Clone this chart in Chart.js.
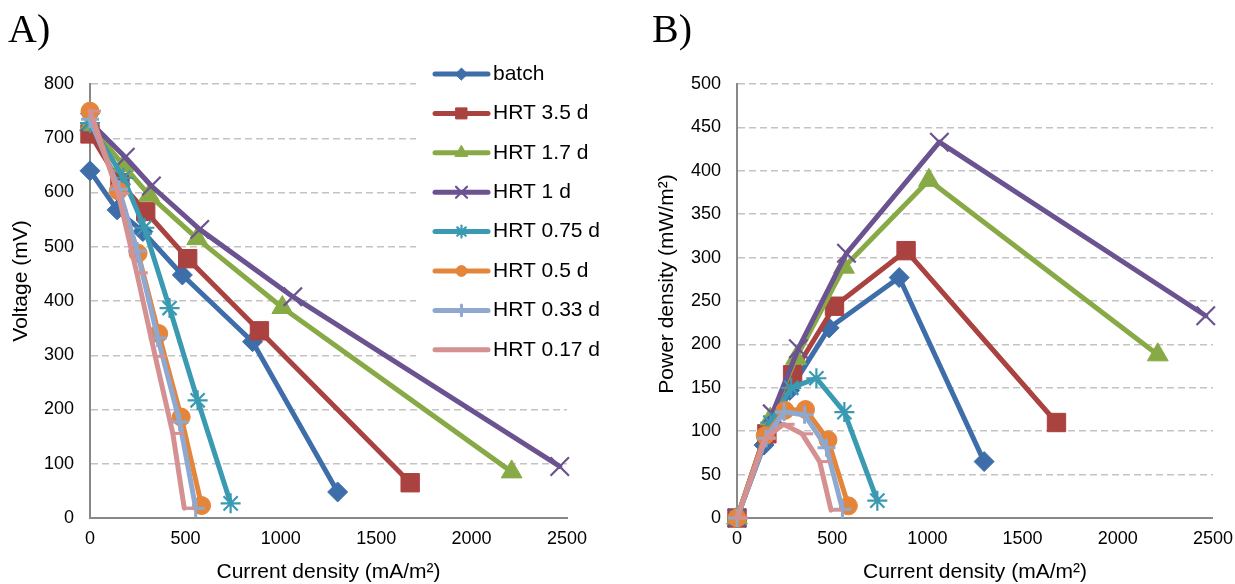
<!DOCTYPE html>
<html><head><meta charset="utf-8">
<script src="https://cdn.jsdelivr.net/npm/chart.js@4.4.0/dist/chart.umd.min.js"></script>
<style>
html,body{margin:0;padding:0;background:#fff;width:1235px;height:584px;overflow:hidden;position:relative;}
#a{position:absolute;left:0;top:0;}
#b{position:absolute;left:640px;top:0;}
.lab{position:absolute;font-family:"Liberation Serif","Times New Roman",serif;font-size:40px;line-height:40px;color:#000;}
</style></head><body>
<canvas id="a" width="620" height="584"></canvas>
<canvas id="b" width="603" height="584"></canvas>
<div class="lab" style="left:8px;top:9px">A)</div>
<div class="lab" style="left:652px;top:9px">B)</div>
<script>
// ---- data ----
const seriesNames = ['batch','HRT 3.5 d','HRT 1.7 d','HRT 1 d','HRT 0.75 d','HRT 0.5 d','HRT 0.33 d','HRT 0.17 d'];

const current_batch = [0,142,277,484,852,1298];
const current_hrt35 = [0,157,292,512,888,1678];
const current_hrt17 = [0,175,310,562,1008,2210];
const current_hrt1  = [0,185,322,575,1063,2462];
const current_hrt075= [0,175,285,417,564,737];
const current_hrt05 = [0,148,252,360,478,585];
const current_hrt033= [0,152,247,355,470,554];
const current_hrt017= [0,148,245,342,434,494];

const voltage_batch = [640,568,528,448,325,48];
const voltage_hrt35 = [708,618,565,478,345,65];
const voltage_hrt17 = [725,650,595,515,388,85];
const voltage_hrt1  = [730,665,612,532,408,95];
const voltage_hrt075= [728,627,535,387,217,27];
const voltage_hrt05 = [750,603,488,340,186,23];
const voltage_hrt033= [735,606,492,332,177,18];
const voltage_hrt017= [750,598,452,298,156,18];

const power_batch = [0,84,147,219,277,65];
const power_hrt35 = [0,97,165,244,308,110];
const power_hrt17 = [0,114,184,289,389,188];
const power_hrt1  = [0,120,195,305,433,233];
const power_hrt075= [0,110,150,161,122,20];
const power_hrt05 = [0,95,124,125,90,14];
const power_hrt033= [0,92,122,119,81,10];
const power_hrt017= [0,92,108,97,65,9];

const xTickValues = [0,500,1000,1500,2000,2500];
const yTickValuesA = [0,100,200,300,400,500,600,700,800];
const yTickValuesB = [0,50,100,150,200,250,300,350,400,450,500];

const currents = [current_batch,current_hrt35,current_hrt17,current_hrt1,current_hrt075,current_hrt05,current_hrt033,current_hrt017];
const voltages = [voltage_batch,voltage_hrt35,voltage_hrt17,voltage_hrt1,voltage_hrt075,voltage_hrt05,voltage_hrt033,voltage_hrt017];
const powers = [power_batch,power_hrt35,power_hrt17,power_hrt1,power_hrt075,power_hrt05,power_hrt033,power_hrt017];

// ---- styles ----
const colors = ['#3E6EA9','#AA4240','#88AA46','#6B5291','#3A9AB2','#E4853A','#8FA8D0','#D59091'];
const pStyles = ['rectRot','rect','triangle','crossRot','star','circle','cross','dash'];
const pRadius = [10,13,12,13,10,9,9,11];
const pBorder = [1,1,1,2.2,2.2,1,3,3];

const FONT = '"Liberation Sans", Arial, sans-serif';
Chart.defaults.font.family = FONT;

function makeDatasets(ys){
  return seriesNames.map((name,i)=>({
    label:name,
    data: currents[i].map((x,k)=>({x:x,y:ys[i][k]})),
    borderColor:colors[i], backgroundColor:colors[i],
    borderWidth:5, showLine:true, tension:0,
    borderJoinStyle:'round', borderCapStyle:'round',
    pointStyle:pStyles[i], pointRadius:pRadius[i], pointHoverRadius:pRadius[i],
    pointBackgroundColor:colors[i], pointBorderColor:colors[i], pointBorderWidth:pBorder[i],
    clip:false, order:7-i
  }));
}

function yTitle(text,x,y){
  return {id:'ytitle',afterDraw(chart){
    const ctx=chart.ctx; ctx.save(); ctx.translate(x,y); ctx.rotate(-Math.PI/2);
    ctx.font='21px '+FONT; ctx.fillStyle='#000'; ctx.textAlign='center'; ctx.textBaseline='middle';
    ctx.fillText(text,0,0); ctx.restore();
  }};
}

const legendPlugin = {
  id:'customLegend',
  beforeDatasetsDraw(chart){
    const ctx=chart.ctx; ctx.save(); ctx.fillStyle='#fff'; ctx.fillRect(416,56,204,315); ctx.restore();
  },
  afterDatasetsDraw(chart){
    const ctx=chart.ctx;
    chart.data.datasets.forEach((ds,i)=>{
      const y = 74 + i*39.4;
      ctx.save();
      ctx.strokeStyle=ds.borderColor; ctx.lineWidth=5; ctx.lineCap='round';
      ctx.beginPath(); ctx.moveTo(435,y); ctx.lineTo(488,y); ctx.stroke();
      ctx.fillStyle=ds.pointBackgroundColor; ctx.strokeStyle=ds.pointBorderColor; ctx.lineWidth=ds.pointBorderWidth;
      Chart.helpers.drawPoint(ctx,{pointStyle:ds.pointStyle,radius:ds.pointRadius*0.6,rotation:0,borderWidth:ds.pointBorderWidth},461.5,y);
      ctx.restore();
      ctx.save();
      ctx.fillStyle='#000'; ctx.font='21px '+FONT; ctx.textBaseline='middle'; ctx.textAlign='left';
      ctx.fillText(ds.label,493,y);
      ctx.restore();
    });
  }
};

function makeScales(yTicks, yMax, yWidth){
  return {
    x:{type:'linear',min:0,max:2500,
      afterBuildTicks:s=>{s.ticks=xTickValues.map(v=>({value:v}));},
      ticks:{font:{size:18},color:'#000',padding:10,maxRotation:0,autoSkip:false,callback:v=>String(v)},
      grid:{display:false,drawTicks:false},
      border:{display:true,color:'#888888',width:2},
      title:{display:true,text:'Current density (mA/m²)',color:'#000',font:{size:21,lineHeight:1},padding:{top:0,bottom:1}},
      afterFit:s=>{s.height=66;}
    },
    y:{type:'linear',min:0,max:yMax,
      afterBuildTicks:s=>{s.ticks=yTicks.map(v=>({value:v}));},
      ticks:{font:{size:18},color:'#000',padding:16,autoSkip:false,callback:v=>String(v)},
      grid:{color:'#C3C3C3',lineWidth:1.5,drawTicks:false,tickLength:0},
      border:{display:true,color:'#888888',width:2,dash:[7,4]},
      afterFit:s=>{s.width=yWidth;}
    }
  };
}

const common = {
  responsive:false, animation:false, devicePixelRatio:1,
  plugins:{legend:{display:false},tooltip:{enabled:false}},
  events:[]
};

new Chart(document.getElementById('a'),{
  type:'scatter',
  data:{datasets:makeDatasets(voltages)},
  options:Object.assign({},common,{
    layout:{padding:{top:84,right:53,left:0,bottom:0}},
    scales:makeScales(yTickValuesA,800,90)
  }),
  plugins:[legendPlugin,yTitle('Voltage (mV)',21,281)]
});

new Chart(document.getElementById('b'),{
  type:'scatter',
  data:{datasets:makeDatasets(powers)},
  options:Object.assign({},common,{
    layout:{padding:{top:84,right:0,left:0,bottom:0}},
    scales:makeScales(yTickValuesB,500,97)
  }),
  plugins:[yTitle('Power density (mW/m²)',27,284)]
});
</script>
</body></html>
